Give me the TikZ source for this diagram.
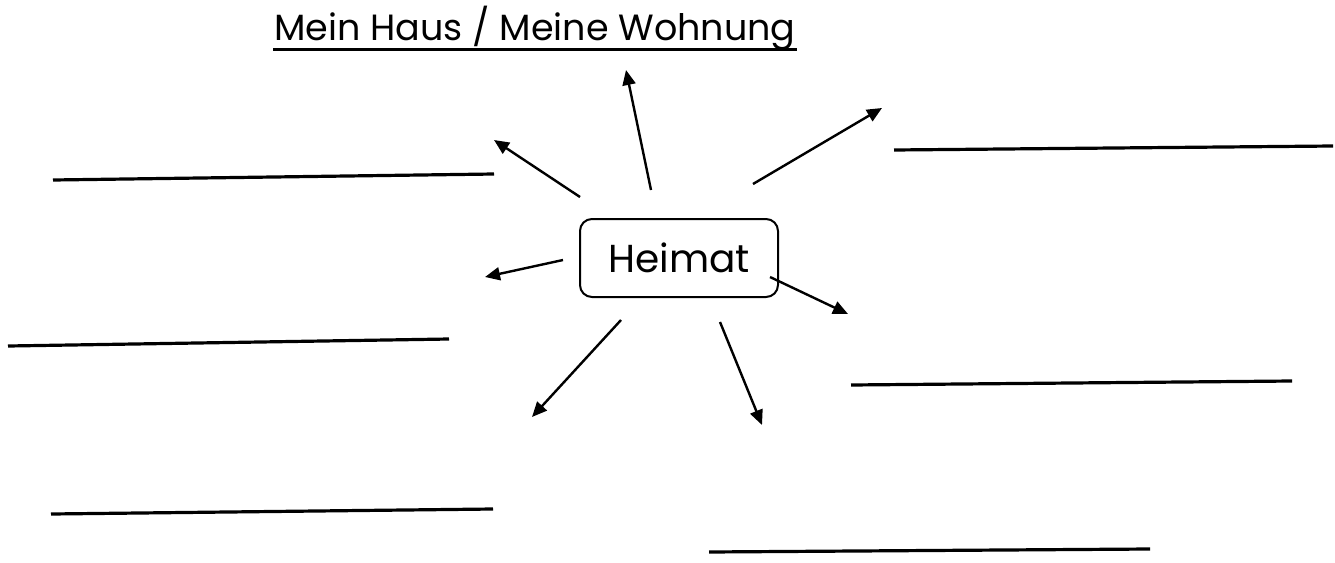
\documentclass[tikz,border=0pt]{standalone}
\usepackage{fontspec}
\setmainfont{Poppins}
\usetikzlibrary{arrows.meta}
\begin{document}
\begin{tikzpicture}[x=1pt,y=-1pt,
  arr/.style={line width=2.4pt,-{Triangle[length=15pt,width=13pt]}},
  blank/.style={line width=3.2pt},
  box/.style={draw,line width=2pt,rounded corners=12pt,minimum width=198pt,minimum height=78pt,inner sep=0pt,font=\fontsize{39}{44}\selectfont}]
\useasboundingbox[fill=white] (0,0) rectangle (1335,562);
\node[inner sep=0pt,anchor=base,font=\fontsize{36.5}{42}\selectfont] (title) at (535,40) {Mein Haus / Meine Wohnung};
\coordinate (u1) at (273,49); \coordinate (u2) at (797,49);
\draw[line width=3pt] (u1) -- (u2);
\node[box] (heimat) at (679,258) {\raisebox{-2pt}{Heimat}};
% arrow coordinates
\coordinate (s1) at (580,197); \coordinate (t1) at (494,140);
\coordinate (s2) at (651,190); \coordinate (t2) at (626,70);
\coordinate (s3) at (753,184); \coordinate (t3) at (882,108);
\coordinate (s4) at (563,260); \coordinate (t4) at (485,277);
\coordinate (s5) at (770,277); \coordinate (t5) at (848,314);
\coordinate (s6) at (621,320); \coordinate (t6) at (532,417);
\coordinate (s7) at (720,322); \coordinate (t7) at (762,425);
\foreach \i in {1,...,7} \draw[arr] (s\i) -- (t\i);
% writing lines
\coordinate (a1) at (53,180); \coordinate (a2) at (494,174);
\coordinate (b1) at (894,150); \coordinate (b2) at (1333,146);
\coordinate (c1) at (8,346); \coordinate (c2) at (449,339);
\coordinate (d1) at (851,385); \coordinate (d2) at (1292,381);
\coordinate (e1) at (51,514); \coordinate (e2) at (493,509);
\coordinate (f1) at (709,552); \coordinate (f2) at (1150,549);
\foreach \l in {a,b,c,d,e,f} \draw[blank] (\l1) -- (\l2);
\end{tikzpicture}
\end{document}
